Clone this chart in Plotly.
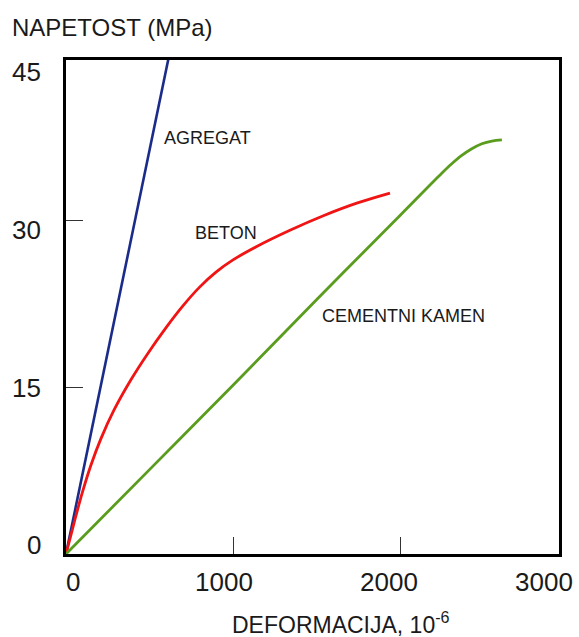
import plotly.graph_objects as go

# ---- data ----
agregat_x = [0, 620]
agregat_y = [0, 45.1]

beton_x = [0, 48, 98, 148, 208, 287, 387, 487, 597, 700, 800, 900, 1000, 1142, 1341, 1541, 1741, 1940]
beton_y = [0, 2.79, 5.55, 7.95, 10.35, 12.95, 15.65, 18.0, 20.35, 22.35, 24.04, 25.41, 26.49,
           27.70, 29.16, 30.47, 31.60, 32.51]

kamen_x = [0, 500, 1000, 1500, 2000, 2250, 2310, 2370, 2430, 2490, 2550, 2610]
kamen_y = [0, 7.6, 15.2, 22.9, 30.5, 34.3, 35.15, 35.9, 36.5, 36.95, 37.2, 37.3]

x_tick_vals = [1000, 2000]
y_tick_vals = [15, 30]
x_tick_labels = ["0", "1000", "2000", "3000"]
y_tick_labels = ["45", "30", "15", "0"]

series_labels = ["AGREGAT", "BETON", "CEMENTNI KAMEN"]
y_title = "NAPETOST (MPa)"
x_title = "DEFORMACIJA, 10<sup>-6</sup>"

FONT = "Liberation Sans, Arial, sans-serif"
TXT = "#1a1a1a"

fig = go.Figure()
fig.add_trace(go.Scatter(x=agregat_x, y=agregat_y, mode="lines",
                         line=dict(color="#1a2b8a", width=2.6)))
fig.add_trace(go.Scatter(x=beton_x, y=beton_y, mode="lines",
                         line=dict(color="#f01414", width=2.8, shape="spline", smoothing=1.0)))
fig.add_trace(go.Scatter(x=kamen_x, y=kamen_y, mode="lines",
                         line=dict(color="#5a9c1e", width=2.8, shape="spline", smoothing=1.0)))

annotations = []
# x tick labels (placed as in the reference)
x_label_pos = [44, 947, 1934, 2862]
for lab, xp in zip(x_tick_labels, x_label_pos):
    annotations.append(dict(x=xp, y=-0.056, xref="x", yref="paper", text=lab,
                            showarrow=False, xanchor="center", yanchor="middle",
                            font=dict(family=FONT, size=26, color=TXT)))
# y tick labels
y_label_pos = [43.4, 29.2, 14.95, 0.8]
for lab, yp in zip(y_tick_labels, y_label_pos):
    annotations.append(dict(x=-0.0467, y=yp, xref="paper", yref="y", text=lab,
                            showarrow=False, xanchor="right", yanchor="middle",
                            font=dict(family=FONT, size=26, color=TXT)))
# series labels
label_pos = [(847, 37.45), (957, 28.96), (2023, 21.46)]
for lab, (xp, yp) in zip(series_labels, label_pos):
    annotations.append(dict(x=xp, y=yp, xref="x", yref="y", text=lab,
                            showarrow=False, xanchor="center", yanchor="middle",
                            font=dict(family=FONT, size=18, color=TXT)))
# axis titles
annotations.append(dict(x=-0.1136, y=1.0668, xref="paper", yref="paper", text=y_title,
                        showarrow=False, xanchor="left", yanchor="middle",
                        font=dict(family=FONT, size=24, color=TXT)))
annotations.append(dict(x=0.557, y=-0.139, xref="paper", yref="paper", text=x_title,
                        showarrow=False, xanchor="center", yanchor="middle",
                        font=dict(family=FONT, size=23, color=TXT)))

fig.update_layout(
    width=579, height=637,
    margin=dict(l=66, r=20, t=60, b=83),
    paper_bgcolor="white", plot_bgcolor="white",
    showlegend=False,
    annotations=annotations,
    xaxis=dict(range=[0, 2952], showgrid=False, zeroline=False,
               showline=True, linecolor="black", linewidth=2.5, mirror=True,
               tickvals=x_tick_vals, showticklabels=False,
               ticks="inside", ticklen=17, tickwidth=1, tickcolor="#333"),
    yaxis=dict(range=[0, 44.5], showgrid=False, zeroline=False,
               showline=True, linecolor="black", linewidth=2.5, mirror=True,
               tickvals=y_tick_vals, showticklabels=False,
               ticks="inside", ticklen=17, tickwidth=1, tickcolor="#333"),
)

fig.write_html("out.html")
